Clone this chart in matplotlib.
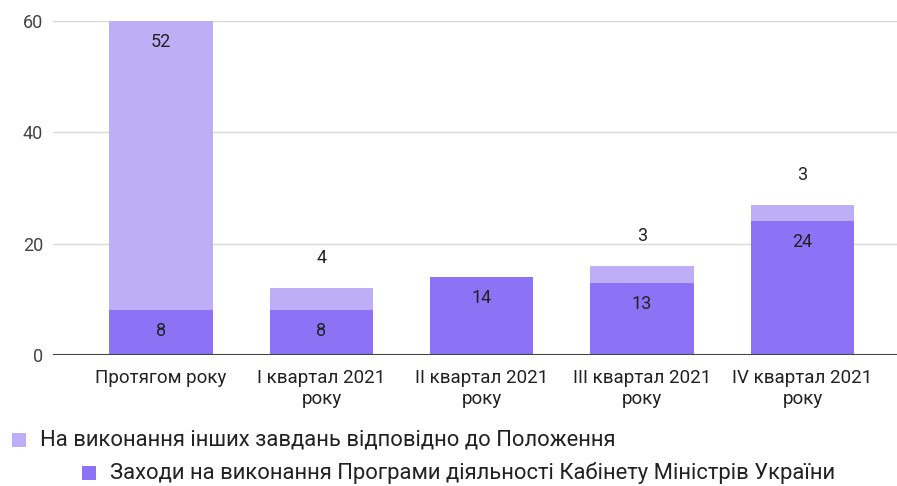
import matplotlib
matplotlib.use("Agg")
import matplotlib.pyplot as plt
from matplotlib.patches import Rectangle

plt.rcParams['font.family'] = ['Roboto', 'DejaVu Sans']

categories = ["Протягом року", "I квартал 2021\nроку", "II квартал 2021\nроку",
              "III квартал 2021\nроку", "IV квартал 2021\nроку"]
program_measures = [8, 8, 14, 13, 24]
other_tasks = [52, 4, 0, 3, 3]
series_names = ["На виконання інших завдань відповідно до Положення",
                "Заходи на виконання Програми діяльності Кабінету Міністрів України"]
y_ticks = [0, 20, 40, 60]

dark = "#8c72f5"
light = "#bdaef5"
text_col = "#222222"

W, H = 897, 486
fig = plt.figure(figsize=(W / 100, H / 100), dpi=100)
ax = fig.add_axes([53 / W, (H - 355) / H, 1 - 53 / W, (355 - 21) / H])

x = list(range(len(categories)))
bw = 0.645
ax.bar(x, program_measures, width=bw, color=dark, zorder=2)
ax.bar(x, other_tasks, width=bw, bottom=program_measures, color=light, zorder=2)

ax.set_ylim(0, 60)
ax.set_xlim(-0.674, 4.59)
ax.set_yticks(y_ticks)
ax.set_yticklabels([str(v) for v in y_ticks], fontsize=13, color="#444444")
ax.tick_params(axis='y', length=0, pad=7)
ax.set_xticks(x)
ax.set_xticklabels(categories, fontsize=13.5, color=text_col, linespacing=1.25)
ax.tick_params(axis='x', length=0, pad=10)
for s in ax.spines.values():
    s.set_visible(False)
ax.grid(axis='y', color="#d9d9d9", linewidth=1, zorder=0)
ax.axhline(0, color="#444444", linewidth=1.5, zorder=3)

px = 334 / 60.0  # pixels per unit
off_in = 21 / px
off_out = 30 / px
fs_val = 13
for i in x:
    b = program_measures[i]
    if b > 0:
        ax.text(i, b - off_in, str(b), ha='center', va='center', fontsize=fs_val, color=text_col, zorder=4)
    t = other_tasks[i]
    if t > 0:
        top = b + t
        if t >= 5:
            ax.text(i, top - off_in, str(t), ha='center', va='center', fontsize=fs_val, color=text_col, zorder=4)
        else:
            ax.text(i, top + off_out, str(t), ha='center', va='center', fontsize=fs_val, color=text_col, zorder=4)

# legend
def legend_item(xs, yc, color, label):
    fig.patches.append(Rectangle((xs / W, 1 - (yc + 7) / H), 14 / W, 14 / H,
                                 transform=fig.transFigure, facecolor=color, edgecolor='none'))
    fig.text((xs + 28) / W, 1 - yc / H, label, ha='left', va='center', fontsize=15.8, color=text_col)

legend_item(12, 440, light, series_names[0])
legend_item(82, 473, dark, series_names[1])

fig.savefig("out.png", dpi=100)
